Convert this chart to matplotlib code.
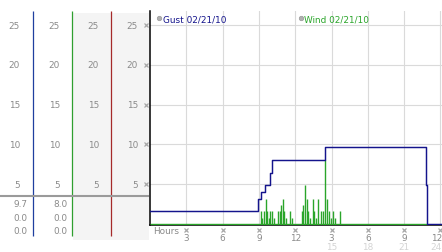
"""Gust / wind strip chart for 02/21/10 with the side columns of scales and stats."""
import matplotlib

matplotlib.use("Agg")
import matplotlib.pyplot as plt  # noqa: E402
from matplotlib.transforms import blended_transform_factory  # noqa: E402

# --- data ---
gust_hours = [0, 8.95, 9.15, 9.5, 9.92, 10.06, 14.5, 22.78, 22.9, 24.13]
gust_vals = [1.6, 3.2, 4.0, 4.9, 6.4, 8.0, 9.7, 4.9, 0.0, 0.0]

wind_hours = [9.17, 9.28, 9.42, 9.56, 9.67, 9.81, 9.94, 10.08, 10.22, 10.60,
              10.72, 10.83, 10.97, 11.10, 11.26, 11.57, 11.71, 12.54, 12.67,
              12.81, 12.95, 13.08, 13.20, 13.45, 13.58, 13.74, 13.91, 14.11,
              14.30, 14.49, 14.65, 14.79, 14.96, 15.15, 15.29, 15.70]
wind_vals = [1.6, 0.8, 1.6, 3.2, 1.6, 0.8, 1.6, 1.6, 0.8, 1.6,
             1.6, 2.4, 3.2, 1.6, 0.8, 1.6, 0.8, 1.6, 2.4,
             4.9, 3.2, 1.6, 0.8, 3.2, 1.6, 0.8, 3.2, 1.6,
             1.6, 8.0, 3.2, 1.6, 0.8, 1.6, 0.8, 1.6]
wind_zero_span = [0, 22.9]

y_ticks = [5, 10, 15, 20, 25]
hour_ticks = [3, 6, 9, 12, 15, 18, 21, 24]
hour_labels = ["3", "6", "9", "12", "3", "6", "9", "12"]
hour_labels_24 = ["", "", "", "", "15", "18", "21", "24"]

gust_stats = ["9.7", "0.0", "0.0"]
wind_stats = ["8.0", "0.0", "0.0"]

GUST = "#14148c"
WIND = "#2aa52a"
GRID = "#dadada"
LABEL = "#8a8a8a"
MARK = "#a8a8a8"
FS = 6.4

W, H = 442, 253
fig = plt.figure(figsize=(W / 100, H / 100), dpi=100)
fig.patch.set_facecolor("white")

# background canvas in pixel units for the side columns
bg = fig.add_axes([0, 0, 1, 1])
bg.set_xlim(0, W)
bg.set_ylim(H, 0)
bg.axis("off")

bg.axvspan(73, 148.5, ymin=1 - 241 / H, ymax=1 - 14 / H, color="#f4f4f4", lw=0)
for xc, col in [(33, "#1f3f9f"), (72, "#2f9f2f"), (111, "#a52a2a")]:
    bg.plot([xc, xc], [12, 237], color=col, lw=0.9, solid_capstyle="butt")
bg.plot([0, 149], [197, 197], color="#9a9a9a", lw=1.5, solid_capstyle="butt")

# main chart
ax = fig.add_axes([149.5 / W, 27.5 / H, (W - 149.5) / W, (225.5 - 12) / H])
ax.set_facecolor("white")
ax.set_xlim(-0.041, 24.13)
ax.set_ylim(-0.06, 26.76)
for s in ["top", "right"]:
    ax.spines[s].set_visible(False)
for s in ["left", "bottom"]:
    ax.spines[s].set_color("black")
    ax.spines[s].set_linewidth(1.1)
ax.set_xticks(hour_ticks)
ax.set_yticks(y_ticks)
ax.tick_params(length=0, labelbottom=False, labelleft=False)
ax.grid(True, color=GRID, lw=0.8)
ax.set_axisbelow(True)

ax.hlines(0, wind_zero_span[0], wind_zero_span[1], color=WIND, lw=1.0, zorder=3)
ax.vlines(wind_hours, 0, wind_vals, color=WIND, lw=1.0, zorder=3)
ax.step(gust_hours, gust_vals, where="post", color=GUST, lw=1.05, zorder=4)

px = bg.transData
ytr = blended_transform_factory(px, ax.transData)
xtr = blended_transform_factory(ax.transData, px)

# legend entries (drawn in pixel space on top of the chart)
for xm, txt, col in [(159, "Gust 02/21/10", GUST), (300.5, "Wind 02/21/10", WIND)]:
    ax.plot([xm], [19], marker="o", ms=3.3, color="#b0b0b0", mec="#909090",
            mew=0.4, transform=px, clip_on=False)
    fig.text(xm + 4, 19.5, txt, transform=px, color=col, fontsize=FS,
             va="center", ha="left")

# side-column scale labels, aligned with the main y scale
for v in y_ticks:
    for xr in [20, 60, 99, 138]:
        fig.text(xr, v, str(v), transform=ytr, ha="right", va="center",
                 fontsize=FS, color=LABEL)
ax.plot([146] * len(y_ticks), y_ticks, ls="none", marker="x", ms=2.6,
        mew=0.9, color=MARK, transform=ytr, clip_on=False)

for i, (g, w) in enumerate(zip(gust_stats, wind_stats)):
    yy = 205 + i * 13.2
    fig.text(27, yy, g, transform=px, ha="right", va="center", fontsize=FS, color=LABEL)
    fig.text(67, yy, w, transform=px, ha="right", va="center", fontsize=FS, color=LABEL)

# hour labels below the axis
fig.text(153, 232, "Hours", transform=px, ha="left", va="center", fontsize=FS, color=LABEL)
ax.plot(hour_ticks, [230.5] * len(hour_ticks), ls="none", marker="x", ms=2.6,
        mew=0.9, color=MARK, transform=xtr, clip_on=False)
last = len(hour_ticks) - 1
for i, (h, lab, lab24) in enumerate(zip(hour_ticks, hour_labels, hour_labels_24)):
    ha = "right" if i == last else "center"
    xx = 24.13 if i == last else h
    fig.text(xx, 238.5, lab, transform=xtr, ha=ha, va="center",
             fontsize=FS, color=LABEL)
    if lab24:
        fig.text(xx, 247.5, lab24, transform=xtr, ha=ha, va="center",
                 fontsize=FS, color="#d4d4d4")

fig.savefig("out.png", dpi=100, facecolor="white")
plt.close(fig)
